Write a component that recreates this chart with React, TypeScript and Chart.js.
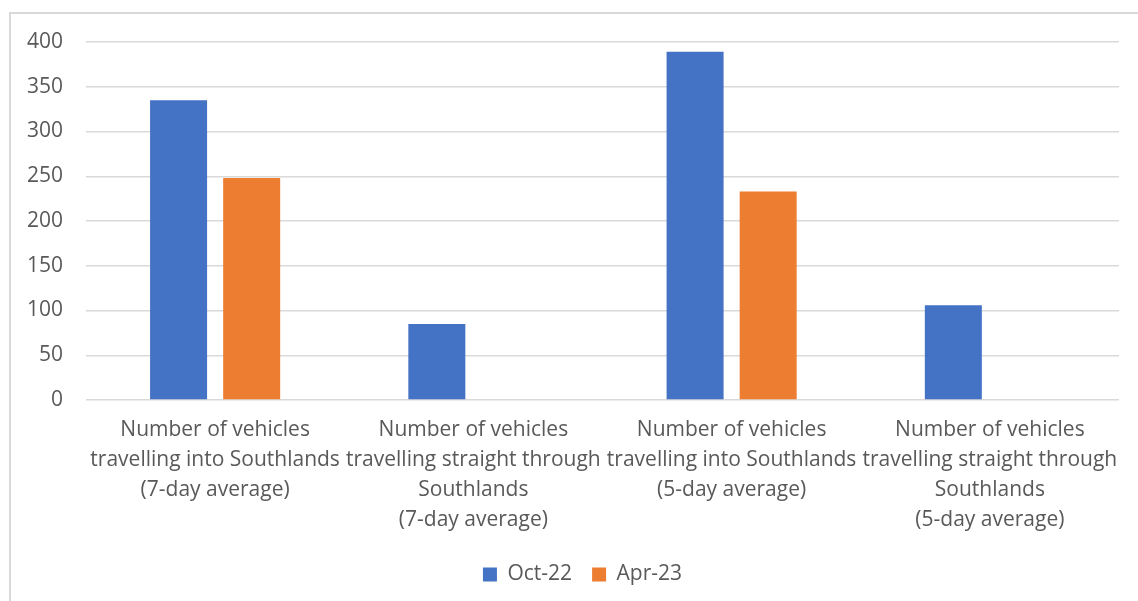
import React, { useEffect, useRef } from "react";
import { Chart, registerables } from "chart.js";

Chart.register(...registerables);

const categories: string[][] = [
  ["Number of vehicles", "travelling into Southlands", "(7-day average)"],
  ["Number of vehicles", "travelling straight through", "Southlands", "(7-day average)"],
  ["Number of vehicles", "travelling into Southlands", "(5-day average)"],
  ["Number of vehicles", "travelling straight through", "Southlands", "(5-day average)"],
];
const oct22: (number | null)[] = [335, 85, 389, 106];
const apr23: (number | null)[] = [248, null, 233, null];
const seriesNames = ["Oct-22", "Apr-23"];

const FONT = "'Open Sans', 'Noto Sans', sans-serif";
const TEXT = "#595959";
const GRID = "#d9d9d9";
const FS = 21;

const legendShift = {
  id: "legendShift",
  afterLayout(chart: any) {
    if (chart.legend) {
      chart.legend.left += 23;
      chart.legend.right += 23;
    }
  },
};

export default function App() {
  const ref = useRef<HTMLCanvasElement | null>(null);
  useEffect(() => {
    if (!ref.current) return;
    const chart = new Chart(ref.current, {
      type: "bar",
      data: {
        labels: categories,
        datasets: [
          {
            label: seriesNames[0],
            data: oct22,
            backgroundColor: "#4472C4",
            borderWidth: 0,
            categoryPercentage: 0.566,
            barPercentage: 0.78,
          },
          {
            label: seriesNames[1],
            data: apr23,
            backgroundColor: "#ED7D31",
            borderWidth: 0,
            categoryPercentage: 0.566,
            barPercentage: 0.78,
          },
        ],
      },
      options: {
        responsive: false,
        animation: false,
        devicePixelRatio: 1,
        layout: { padding: { top: 42, right: 19, bottom: 6, left: 0 } },
        plugins: {
          tooltip: { enabled: false },
          legend: {
            position: "bottom",
            labels: {
              boxWidth: 14,
              boxHeight: 14,
              padding: 20,
              color: TEXT,
              font: { family: FONT, size: FS },
            },
          },
        },
        scales: {
          x: {
            grid: { display: false, drawTicks: false },
            border: { display: false },
            ticks: {
              color: TEXT,
              font: { family: FONT, size: FS, lineHeight: "30px" as any },
              padding: 15,
              maxRotation: 0,
              minRotation: 0,
              autoSkip: false,
            },
            afterFit: (scale: any) => {
              scale.height = 144;
            },
          },
          y: {
            min: 0,
            max: 400,
            grid: { color: GRID, lineWidth: 1.5, drawTicks: false },
            border: { display: false },
            ticks: {
              stepSize: 50,
              color: TEXT,
              padding: 23,
              font: { family: FONT, size: FS },
            },
            afterFit: (scale: any) => {
              scale.width = 86;
            },
          },
        },
      },
      plugins: [legendShift],
    });
    return () => chart.destroy();
  }, []);

  return (
    <div
      style={{
        position: "absolute",
        left: 0,
        top: 0,
        width: 1138,
        height: 601,
        overflow: "hidden",
        background: "#fff",
      }}
    >
      <div
        style={{
          position: "absolute",
          left: 9,
          top: 12,
          width: 1300,
          height: 800,
          border: `2px solid ${GRID}`,
          boxSizing: "border-box",
        }}
      />
      <canvas
        ref={ref}
        width={1138}
        height={601}
        style={{ position: "absolute", left: 0, top: 0 }}
      />
    </div>
  );
}
